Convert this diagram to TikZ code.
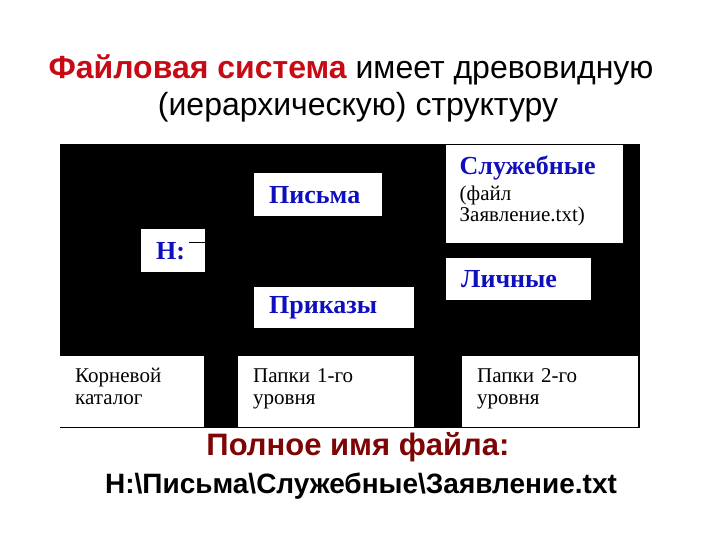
\documentclass[tikz,border=0pt]{standalone}
\usepackage{fontspec}
\setmainfont{Liberation Sans}
\newfontfamily\boxfont{Liberation Serif}
\usetikzlibrary{positioning}
\definecolor{dirblue}{RGB}{15,15,190}
\definecolor{titlered}{RGB}{200,10,20}
\definecolor{namered}{RGB}{125,5,5}
\newcommand{\dirname}[1]{{\fontsize{26}{28}\selectfont\bfseries\color{dirblue}#1}}

\begin{document}
\begin{tikzpicture}[x=1pt,y=-1pt,
  box/.style={fill=white,anchor=north west,inner xsep=15pt,inner ysep=0pt,align=left,
    font=\boxfont\fontsize{21}{22.5}\selectfont}]
          \useasboundingbox (0,0) rectangle (720,540);

          % heading
          \node (head1) at (351,70) {\fontsize{32}{36}\selectfont\textcolor{titlered}{\bfseries Файловая система} имеет древовидную};
          \node (head2) at (358,107) {\fontsize{32}{36}\selectfont(иерархическую) структуру};

          % black field
          \fill (60,144) rectangle (640,428);

          % folders
          \node[box,minimum width=64,text width=34,minimum height=43] (root) at (141,229) {\dirname{H:}};
          \node[box,minimum width=128,text width=98,minimum height=43] (letters) at (254,173) {\dirname{Письма}};
          \node[box,minimum width=160,text width=130,minimum height=41] (orders) at (254,287) {\dirname{Приказы}};
          \node[box,minimum width=177,text width=150,inner xsep=13.5pt,minimum height=98,text depth=58pt] (office) at (446,145) {\dirname{Служебные}\\[3pt](файл\\[-1pt]Заявление.txt)};
          \node[box,minimum width=145,text width=115,minimum height=42] (personal) at (446,258) {\dirname{Личные}};

          \coordinate (tick) at (189,242);
          \draw[line width=0.8pt] (tick) -- (tick -| root.east);

          % levels
          \node[box,minimum width=144,text width=114,minimum height=71,text depth=33pt] (lvl0) at (60,356) {Корневой\\каталог};
          \node[box,minimum width=176,text width=146,minimum height=71,text depth=33pt] (lvl1) at (238,356) {Папки 1-го\\уровня};
          \node[box,minimum width=176,text width=146,minimum height=71,text depth=33pt] (lvl2) at (462,356) {Папки 2-го\\уровня};

          % full name
          \node[font=\bfseries\fontsize{31}{34}\selectfont,text=namered] (full) at (358,447) {Полное имя файла:};
          \node[font=\bfseries\fontsize{28}{32}\selectfont] (path) at (361,486) {H:\textbackslash Письма\textbackslash Служебные\textbackslash Заявление.txt};
\end{tikzpicture}
\end{document}
